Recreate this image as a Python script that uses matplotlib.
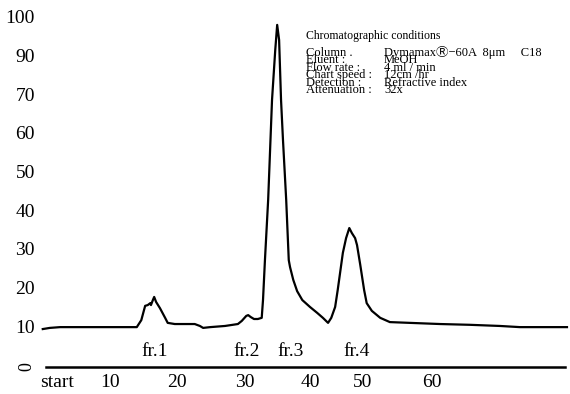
import matplotlib.pyplot as plt

# chromatogram trace (time in min, detector signal)
t = [-0.5, 0.6, 2.2, 8.4, 14.1, 14.8, 15.4, 15.8, 16.2, 16.3, 16.6, 16.8, 17.1,
     17.7, 18.5, 18.9, 20.0, 23.1, 23.9, 24.4, 25.5, 27.8, 29.8, 30.4, 31.1,
     31.4, 31.8, 32.3, 32.9, 33.5, 33.7, 34.0, 34.5, 34.8, 35.1, 35.6, 35.9,
     36.2, 36.5, 36.8, 37.3, 37.7, 37.9, 38.4, 39.0, 39.8, 41.0, 42.1, 43.0,
     43.8, 44.3, 44.9, 45.3, 46.1, 46.6, 47.1, 47.5, 48.0, 48.3, 48.8, 49.4,
     49.8, 50.6, 51.9, 53.4, 56.5, 61.2, 65.8, 70.5, 73.6, 80.9]
signal = [9.8, 10.1, 10.3, 10.3, 10.3, 12.1, 15.8, 16.0, 16.5, 16.0, 17.3, 18.1, 16.8,
          15.2, 12.7, 11.4, 11.1, 11.1, 10.6, 10.1, 10.3, 10.6, 11.1, 11.9, 13.2,
          13.4, 12.9, 12.4, 12.4, 12.7, 17.3, 27.6, 43.2, 56.1, 69.0, 81.9, 88.4,
          84.5, 69.0, 58.7, 43.2, 27.6, 25.8, 22.5, 19.6, 17.3, 15.5, 14.0, 12.7,
          11.4, 12.7, 15.5, 19.9, 29.5, 33.3, 35.9, 34.6, 33.3, 31.5, 26.4, 19.9,
          16.5, 14.5, 12.7, 11.6, 11.4, 11.1, 10.9, 10.6, 10.3, 10.3]

y_ticks = [0, 10, 20, 30, 40, 50, 60, 70, 80, 90]
y_labels = ['0', '10', '20', '30', '40', '50', '60', '70', '90', '100']
x_ticks = [1.7, 10, 20.3, 30.9, 41.0, 49.2, 59.9]
x_labels = ['start', '10', '20', '30', '40', '50', '60']
fractions = ['fr.1', 'fr.2', 'fr.3', 'fr.4']
fraction_t = [16.9, 31.1, 38.0, 48.3]

cond_labels = ['Column .', 'Eluent :', 'Flow rate :', 'Chart speed :',
               'Detection :', 'Attenuation :']
cond_values = ['Dymamax\u24c7\u221260A  8\u03bcm     C18', 'MeOH', '4 ml / min',
               '12cm /hr', 'Refractive index', '32x']

plt.rcParams['font.family'] = ['Liberation Serif', 'DejaVu Serif', 'Noto Sans CJK JP']

fig = plt.figure(figsize=(5.7, 3.94), dpi=100)
ax = fig.add_axes([0, 0, 1, 1])
ax.set_xlim(-7.14, 81.37)
ax.set_ylim(-6.98, 94.83)
ax.axis('off')

ax.plot(t, signal, color='black', lw=1.6, solid_joinstyle='round')
ax.plot([0, 80.6], [0, 0], color='black', lw=1.8)

for v, lab in zip(y_ticks, y_labels):
    if lab == '0':
        ax.text(-2.9, v, lab, rotation=90, ha='center', va='center', fontsize=13)
    else:
        ax.text(-1.7, v, lab, ha='right', va='center', fontsize=14)

for x, lab in zip(x_ticks, x_labels):
    ax.text(x, -4.0, lab, ha='center', va='center', fontsize=14)

for x, lab in zip(fraction_t, fractions):
    ax.text(x, 4.0, lab, ha='center', va='center', fontsize=14)

# conditions block, placed in figure pixels
def px(x, y):
    return x / 570, 1 - y / 394

ax.text(*px(306, 35.5), 'Chromatographic conditions', transform=ax.transAxes,
        ha='left', va='center', fontsize=8.5)
# multi-line baseline alignment anchors the last line
ax.text(*px(306, 93), '\n'.join(cond_labels), transform=ax.transAxes,
        ha='left', va='baseline', fontsize=9, linespacing=0.49)
ax.text(*px(384, 93), '\n'.join(cond_values), transform=ax.transAxes,
        ha='left', va='baseline', fontsize=9, linespacing=0.49)

fig.savefig('out.png', dpi=100)
